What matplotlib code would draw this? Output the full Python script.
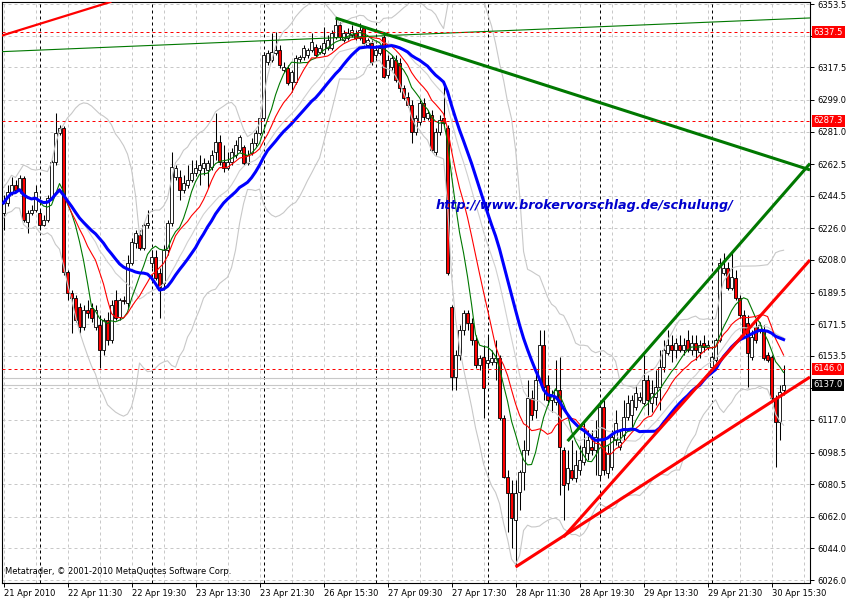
import matplotlib
matplotlib.use("Agg")
import matplotlib.pyplot as plt
import pandas as pd

# DAX M30, 21 Apr 17:30 .. 30 Apr 17:00 (one entry per bar)
opens = [
    6234.7, 6240.4, 6246.6, 6250.6, 6247.7, 6254.6, 6229.6, 6234.7, 6236.4, 6234.7,
    6227.9, 6230.7, 6243.2, 6263.7, 6280.2, 6283.0, 6201.1, 6189.2, 6186.4, 6181.2,
    6169.9, 6179.5, 6180.7, 6169.9, 6171.0, 6156.8, 6173.8, 6162.5, 6185.2, 6175.6,
    6185.2, 6183.5, 6206.2, 6217.6, 6222.2, 6214.8, 6227.9, 6206.2, 6209.7, 6200.6,
    6194.9, 6213.6, 6229.0, 6255.2, 6255.2, 6247.7, 6250.6, 6253.5, 6257.4, 6259.1,
    6260.3, 6259.1, 6260.8, 6269.4, 6275.1, 6263.7, 6260.3, 6263.7, 6267.7, 6270.5,
    6272.2, 6263.1, 6268.8, 6274.5, 6280.2, 6288.7, 6320.5, 6321.7, 6325.7, 6327.4,
    6316.0, 6317.1, 6309.2, 6309.2, 6322.3, 6323.4, 6324.5, 6327.4, 6329.1, 6326.2,
    6325.7, 6328.5, 6328.5, 6334.8, 6341.6, 6333.1, 6334.2, 6335.9, 6337.0, 6334.2,
    6339.9, 6330.2, 6331.4, 6324.5, 6325.7, 6334.8, 6313.2, 6317.7, 6321.7, 6320.0,
    6305.8, 6300.6, 6296.1, 6280.7, 6286.4, 6297.2, 6288.7, 6290.4, 6269.4, 6280.7,
    6288.7, 6283.0, 6181.2, 6141.4, 6153.9, 6168.2, 6177.8, 6172.1, 6162.5, 6148.3,
    6152.8, 6149.4, 6149.9, 6149.9, 6152.2, 6118.1, 6084.6, 6075.5, 6060.1, 6076.1,
    6087.4, 6099.9, 6129.5, 6122.7, 6139.7, 6159.6, 6136.9, 6128.3, 6127.2, 6134.0,
    6099.9, 6081.2, 6088.5, 6084.0, 6088.5, 6093.1, 6098.2, 6101.6, 6099.9, 6085.7,
    6124.4, 6086.9, 6090.3, 6105.6, 6101.6, 6108.5, 6118.7, 6119.8, 6124.4, 6128.3,
    6126.7, 6139.7, 6126.7, 6130.1, 6135.8, 6147.1, 6155.1, 6159.6, 6156.8, 6159.6,
    6156.8, 6162.5, 6156.8, 6160.8, 6155.7, 6160.8, 6158.5, 6147.1, 6151.1, 6162.5,
    6200.6, 6203.4, 6192.0, 6197.7, 6186.4, 6176.7, 6172.1, 6152.8, 6169.9, 6168.2,
    6168.2, 6153.9, 6152.8, 6129.5, 6115.8, 6134.0,
]
highs = [
    6244.9, 6250.6, 6255.2, 6253.5, 6256.3, 6255.7, 6236.4, 6239.2, 6250.6, 6236.4,
    6233.5, 6244.9, 6264.8, 6291.5, 6284.7, 6284.2, 6202.3, 6190.9, 6188.1, 6183.5,
    6182.4, 6185.2, 6183.5, 6182.4, 6176.7, 6175.0, 6178.4, 6185.2, 6190.9, 6186.4,
    6187.5, 6210.8, 6220.5, 6225.0, 6225.0, 6229.6, 6236.4, 6213.6, 6213.6, 6203.4,
    6216.5, 6230.7, 6269.4, 6262.0, 6259.1, 6256.3, 6262.0, 6264.8, 6264.8, 6267.7,
    6266.0, 6264.8, 6270.5, 6291.5, 6279.0, 6273.4, 6269.4, 6271.6, 6276.2, 6279.0,
    6273.4, 6270.5, 6277.3, 6281.9, 6290.4, 6326.2, 6327.4, 6337.0, 6337.6, 6330.2,
    6320.5, 6318.8, 6316.0, 6324.5, 6324.5, 6330.2, 6328.5, 6337.0, 6330.8, 6330.2,
    6340.4, 6335.9, 6338.7, 6345.6, 6343.3, 6338.7, 6339.9, 6341.6, 6338.7, 6342.7,
    6341.0, 6334.2, 6333.1, 6330.2, 6330.2, 6337.6, 6324.5, 6324.5, 6324.5, 6322.8,
    6307.5, 6303.5, 6298.9, 6290.4, 6298.9, 6300.1, 6293.2, 6293.2, 6283.0, 6290.4,
    6308.6, 6284.7, 6182.4, 6156.8, 6171.0, 6179.5, 6179.5, 6175.0, 6165.3, 6153.9,
    6159.6, 6165.3, 6156.8, 6162.5, 6153.9, 6119.8, 6088.5, 6082.9, 6082.9, 6088.5,
    6105.6, 6139.7, 6134.0, 6145.4, 6168.2, 6168.2, 6142.6, 6134.0, 6151.1, 6152.8,
    6101.6, 6099.9, 6105.6, 6099.9, 6102.8, 6117.0, 6111.3, 6111.3, 6117.0, 6127.2,
    6128.3, 6102.8, 6111.3, 6122.7, 6111.3, 6128.3, 6131.2, 6131.2, 6136.9, 6132.9,
    6153.9, 6142.6, 6139.7, 6145.4, 6156.8, 6162.5, 6168.2, 6165.3, 6163.6, 6165.3,
    6163.6, 6168.2, 6165.3, 6165.3, 6162.5, 6165.3, 6162.5, 6153.9, 6163.6, 6209.1,
    6211.9, 6206.8, 6211.9, 6202.3, 6188.1, 6179.5, 6176.7, 6168.2, 6173.8, 6172.7,
    6171.0, 6155.7, 6153.9, 6131.2, 6136.9, 6148.3,
]
lows = [
    6225.0, 6238.7, 6244.9, 6246.6, 6246.1, 6229.6, 6223.3, 6233.5, 6235.3, 6225.0,
    6227.3, 6229.6, 6242.1, 6262.0, 6279.0, 6199.4, 6185.2, 6166.5, 6172.7, 6166.5,
    6168.2, 6175.0, 6172.7, 6168.2, 6146.6, 6153.9, 6159.6, 6160.8, 6173.8, 6173.8,
    6183.0, 6180.7, 6205.1, 6214.8, 6213.6, 6213.6, 6226.2, 6203.4, 6196.6, 6175.0,
    6190.9, 6210.8, 6227.3, 6253.5, 6242.1, 6246.1, 6248.9, 6252.3, 6255.7, 6250.6,
    6256.3, 6248.9, 6259.1, 6264.8, 6262.0, 6258.0, 6259.1, 6262.0, 6266.0, 6269.4,
    6262.0, 6262.0, 6267.7, 6272.8, 6279.0, 6287.6, 6318.8, 6320.5, 6324.5, 6317.1,
    6314.9, 6307.5, 6303.5, 6308.0, 6320.5, 6321.7, 6322.8, 6326.2, 6323.4, 6325.1,
    6324.5, 6327.4, 6327.4, 6333.6, 6333.1, 6331.9, 6333.1, 6334.8, 6333.1, 6333.1,
    6330.2, 6329.1, 6318.8, 6322.8, 6324.5, 6311.4, 6311.4, 6316.0, 6309.2, 6303.5,
    6298.9, 6295.0, 6274.5, 6279.0, 6284.7, 6287.6, 6287.6, 6269.4, 6267.7, 6279.0,
    6284.7, 6199.4, 6134.0, 6134.0, 6151.1, 6165.3, 6168.2, 6159.6, 6146.6, 6145.4,
    6118.1, 6146.6, 6148.3, 6139.7, 6117.0, 6084.0, 6053.3, 6044.2, 6033.4, 6065.8,
    6077.2, 6097.1, 6117.0, 6118.1, 6138.0, 6128.3, 6125.5, 6121.5, 6125.5, 6074.3,
    6060.1, 6077.2, 6082.9, 6081.7, 6085.7, 6091.4, 6094.2, 6097.1, 6085.7, 6082.9,
    6085.7, 6084.0, 6088.5, 6102.8, 6099.9, 6105.6, 6117.0, 6111.3, 6122.7, 6127.2,
    6125.5, 6119.8, 6121.5, 6125.5, 6122.7, 6144.3, 6153.9, 6149.9, 6152.2, 6155.7,
    6153.9, 6155.7, 6153.9, 6151.1, 6152.2, 6155.7, 6156.8, 6145.4, 6149.9, 6161.3,
    6199.4, 6190.9, 6190.9, 6185.2, 6175.0, 6165.3, 6135.8, 6151.1, 6160.8, 6166.5,
    6151.1, 6149.9, 6128.3, 6090.3, 6105.6, 6131.2,
]
closes = [
    6240.4, 6246.6, 6250.6, 6247.7, 6254.6, 6230.7, 6234.7, 6236.4, 6246.6, 6227.9,
    6230.7, 6243.2, 6263.7, 6280.2, 6283.0, 6201.1, 6189.2, 6186.4, 6173.8, 6169.9,
    6179.5, 6177.8, 6175.0, 6179.5, 6156.8, 6173.8, 6162.5, 6182.4, 6175.0, 6185.2,
    6184.8, 6206.2, 6218.2, 6223.3, 6214.8, 6227.9, 6229.0, 6209.7, 6197.7, 6192.6,
    6213.6, 6229.0, 6260.8, 6260.3, 6247.7, 6251.7, 6253.5, 6257.4, 6260.3, 6262.0,
    6263.1, 6263.1, 6267.7, 6275.1, 6263.7, 6260.3, 6263.7, 6269.4, 6273.4, 6277.9,
    6263.1, 6267.7, 6274.5, 6280.2, 6288.7, 6324.5, 6325.7, 6326.2, 6327.4, 6318.8,
    6317.7, 6308.6, 6314.9, 6322.8, 6323.4, 6328.5, 6327.4, 6331.9, 6324.5, 6328.5,
    6331.4, 6333.1, 6337.0, 6341.6, 6334.8, 6337.0, 6337.0, 6338.7, 6334.2, 6338.7,
    6331.4, 6333.1, 6320.5, 6327.4, 6328.5, 6312.0, 6321.7, 6322.8, 6310.3, 6305.8,
    6300.1, 6296.1, 6280.7, 6288.7, 6297.2, 6289.3, 6291.5, 6270.5, 6280.7, 6287.6,
    6285.9, 6200.6, 6141.4, 6153.9, 6168.2, 6177.8, 6172.1, 6162.5, 6148.3, 6152.2,
    6135.2, 6151.1, 6152.2, 6152.2, 6118.1, 6084.6, 6075.5, 6061.3, 6075.5, 6087.4,
    6099.9, 6129.5, 6119.8, 6139.7, 6159.6, 6135.8, 6128.3, 6131.2, 6134.0, 6101.6,
    6080.0, 6089.7, 6084.0, 6091.4, 6094.2, 6101.6, 6105.6, 6099.9, 6107.3, 6124.4,
    6088.5, 6098.2, 6107.3, 6115.3, 6104.5, 6118.7, 6126.7, 6128.3, 6132.3, 6130.1,
    6139.7, 6128.3, 6132.3, 6135.8, 6147.1, 6156.8, 6159.6, 6156.8, 6160.8, 6156.8,
    6159.6, 6156.8, 6160.8, 6156.8, 6159.6, 6158.5, 6159.6, 6152.8, 6162.5, 6206.2,
    6203.4, 6192.0, 6198.3, 6186.4, 6176.7, 6166.5, 6155.1, 6164.2, 6162.5, 6171.0,
    6152.2, 6151.1, 6129.5, 6115.8, 6132.9, 6137.0,
]

time_tick_bars = [0, 16, 32, 48, 64, 80, 96, 112, 128, 144, 160, 176, 192]
time_tick_labels = ["21 Apr 2010", "22 Apr 11:30", "22 Apr 19:30", "23 Apr 13:30",
                    "23 Apr 21:30", "26 Apr 15:30", "27 Apr 09:30", "27 Apr 17:30",
                    "28 Apr 11:30", "28 Apr 19:30", "29 Apr 13:30", "29 Apr 21:30",
                    "30 Apr 15:30"]
day_start_bars = [9, 37, 65, 93, 121, 149, 177]
price_ticks = [6026.0, 6044.0, 6062.0, 6080.5, 6098.5, 6117.0, 6135.0, 6153.5, 6171.5,
               6189.5, 6208.0, 6226.0, 6244.5, 6262.5, 6281.0, 6299.0, 6317.5, 6335.5, 6353.5]
# these two tick labels sit under the price boxes in the terminal
hidden_ticks = [6135.0, 6335.5]

# horizontal levels drawn on the chart
red_levels = [6337.5, 6287.3, 6146.0]
bid_price = 6137.0
ask_price = 6141.0

# trend lines: (bar, price) anchors
green_down = [(83, 6345.6), (150, 6296.8)]
green_up = [(141, 6105.0), (185, 6219.6)]
green_thin = [(0, 6326.5), (195, 6345.0)]
red_top = [(0, 6335.9), (24, 6352.8)]
red_steep = [(140, 6050.5), (193, 6186.0)]
red_flat = [(128, 6033.4), (193, 6128.8)]

x_left, x_right = -0.375, 201.6
y_low, y_high = 6024.3, 6354.7

fig = plt.figure(figsize=(8.5, 6), dpi=100)
fig.patch.set_facecolor("white")
ax = fig.add_axes([2 / 850, 17 / 600, 808 / 850, 581 / 600])
ax.set_xlim(x_left, x_right)
ax.set_ylim(y_low, y_high)

bars = list(range(len(closes)))

# grid
for b in range(0, 202, 8):
    ax.axvline(b, color="#c8c8c8", lw=0.72, ls=(0, (3, 3)), zorder=0)
for p in price_ticks:
    ax.axhline(p, color="#c8c8c8", lw=0.72, ls=(0, (3, 3)), zorder=0)
for b in day_start_bars:
    ax.axvline(b, color="black", lw=0.72, ls=(0, (3, 3)), zorder=0.5)

# bid / ask
ax.axhline(ask_price, color="#c8c8c8", lw=0.8, zorder=0.6)
ax.axhline(bid_price, color="#c8c8c8", lw=0.8, zorder=0.6)

# candles
ax.vlines(bars, lows, highs, color="black", lw=0.75, zorder=2)
bottoms = [min(o, c) for o, c in zip(opens, closes)]
heights = [max(abs(c - o), 0.4) for o, c in zip(opens, closes)]
fills = ["white" if c >= o else "#ff0000" for o, c in zip(opens, closes)]
ax.bar(bars, heights, bottom=bottoms, width=0.6, color=fills,
       edgecolor="black", linewidth=0.6, zorder=2.1)

# indicators
cl = pd.Series(closes)
ma_green = cl.rolling(8, min_periods=1).mean()
ma_red = cl.rolling(13, min_periods=1).mean()
ma_blue = cl.rolling(25, min_periods=1).mean()
bb_mid = cl.rolling(20, min_periods=1).mean()
bb_std = cl.rolling(20, min_periods=2).std().bfill()
ax.plot(bars, bb_mid + 2 * bb_std, color="#c8c8c8", lw=0.8, zorder=2.5)
ax.plot(bars, bb_mid - 2 * bb_std, color="#c8c8c8", lw=0.8, zorder=2.5)
ax.plot(bars, bb_mid, color="#d0d0d0", lw=0.8, zorder=2.5)
ax.plot(bars, ma_green, color="#007800", lw=0.8, zorder=3)
ax.plot(bars, ma_red, color="#ff0000", lw=0.8, zorder=3)
ax.plot(bars, ma_blue, color="#0000ff", lw=2.2, zorder=3.1)


def ray(pts, **kw):
    (b0, p0), (b1, p1) = pts
    slope = (p1 - p0) / (b1 - b0)
    ax.plot([b0, x_right], [p0, p0 + slope * (x_right - b0)], solid_capstyle="butt", **kw)


ray(green_down, color="#007800", lw=2.2, zorder=4)
ray(green_up, color="#007800", lw=2.2, zorder=4)
ray(red_steep, color="#ff0000", lw=2.2, zorder=4)
ray(red_flat, color="#ff0000", lw=2.2, zorder=4)
ax.axline(green_thin[0], green_thin[1], color="#007800", lw=0.8, zorder=4)
ax.axline(red_top[0], red_top[1], color="#ff0000", lw=1.6, zorder=4)

for lv in red_levels:
    ax.axhline(lv, color="#ff0000", lw=0.72, ls=(0, (3, 3)), zorder=4)

# axes look
for s in ax.spines.values():
    s.set_color("black")
    s.set_linewidth(0.8)
ax.yaxis.tick_right()
ax.set_yticks(price_ticks)
ax.set_yticklabels(["" if p in hidden_ticks else f"{p:.1f}" for p in price_ticks])
ax.tick_params(axis="y", direction="out", length=3, width=0.7, pad=2, labelsize=6)
ax.set_xticks(time_tick_bars)
ax.set_xticklabels(time_tick_labels, ha="left")
ax.tick_params(axis="x", direction="out", length=3, width=0.7, pad=1.5, labelsize=6)

ytr = ax.get_yaxis_transform()
for lv, bg in [(6337.5, "#ff0000"), (6287.3, "#ff0000"), (6146.0, "#ff0000"), (bid_price, "black")]:
    ax.text(1.0045, lv, f"{lv:.1f}", transform=ytr, ha="left", va="center", fontsize=6,
            color="white", clip_on=False, zorder=10,
            bbox=dict(boxstyle="square,pad=0.18", fc=bg, ec="none"))

ax.text(107.9, 6239.2, "http://www.brokervorschlag.de/schulung/", color="#0000cd",
        fontsize=9.2, fontweight="bold", fontstyle="italic", ha="left", va="center", zorder=5)
ax.text(0.004, 0.012, "Metatrader, \u00a9 2001-2010 MetaQuotes Software Corp.",
        transform=ax.transAxes, fontsize=6, color="black", ha="left", va="bottom", zorder=5)

fig.savefig("out.png", dpi=100)
